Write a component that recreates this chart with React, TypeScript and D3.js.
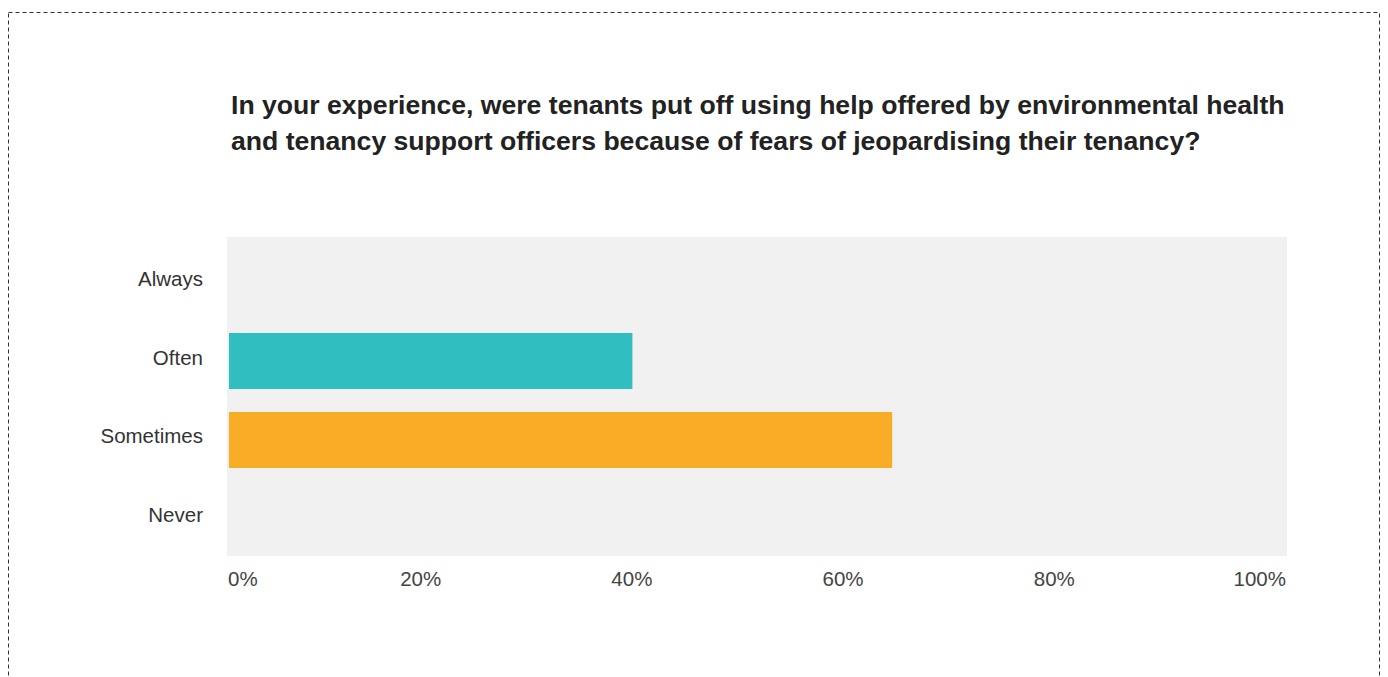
import React from "react";
import * as d3 from "d3";

const categories = ["Always", "Often", "Sometimes", "Never"];
const values = [0, 38.2, 62.8, 0];
const barColors = ["#30BEC0", "#30BEC0", "#F9AC26", "#F9AC26"];
const tickValues = [0, 20, 40, 60, 80, 100];
const titleLines = [
  "In your experience, were tenants put off using help offered by environmental health",
  "and tenancy support officers because of fears of jeopardising their tenancy?",
];

export default function App() {
  const W = 1388;
  const H = 677;
  const bg = { x0: 227, x1: 1287, y0: 237, y1: 556 };
  const x = d3.scaleLinear().domain([0, 100]).range([229, 1285]);
  const y = d3.scaleBand<string>().domain(categories).range([254, 547]).paddingInner(0.291).paddingOuter(0);
  const font = "'Liberation Sans', Arial, Helvetica, sans-serif";

  return (
    <svg
      width={W}
      height={H}
      style={{ position: "absolute", left: 0, top: 0, background: "#fff" }}
      fontFamily={font}
    >
      <rect
        x={8.5}
        y={12.5}
        width={1371}
        height={700}
        fill="none"
        stroke="#333"
        strokeWidth={1}
        strokeDasharray="4 3"
      />
      {titleLines.map((t, i) => (
        <text key={i} x={231} y={114 + i * 36} fontSize={26.6} fontWeight="bold" fill="#222">
          {t}
        </text>
      ))}
      <rect x={bg.x0} y={bg.y0} width={bg.x1 - bg.x0} height={bg.y1 - bg.y0} fill="#F0F1F0" />
      {categories.map((c, i) => (
        <g key={c}>
          {values[i] > 0 && (
            <rect
              x={x(0)}
              y={y(c)}
              width={x(values[i]) - x(0)}
              height={y.bandwidth()}
              fill={barColors[i]}
            />
          )}
          <text
            x={203}
            y={(y(c) as number) + y.bandwidth() / 2 - 4}
            textAnchor="end"
            dominantBaseline="central"
            fontSize={20.5}
            fill="#333"
          >
            {c}
          </text>
        </g>
      ))}
      {tickValues.map((v, i) => (
        <text
          key={v}
          x={i === 0 ? x(v) - 1 : x(v) + 1}
          y={586}
          textAnchor={i === 0 ? "start" : "end"}
          fontSize={20.5}
          fill="#444"
        >
          {v}%
        </text>
      ))}
    </svg>
  );
}
